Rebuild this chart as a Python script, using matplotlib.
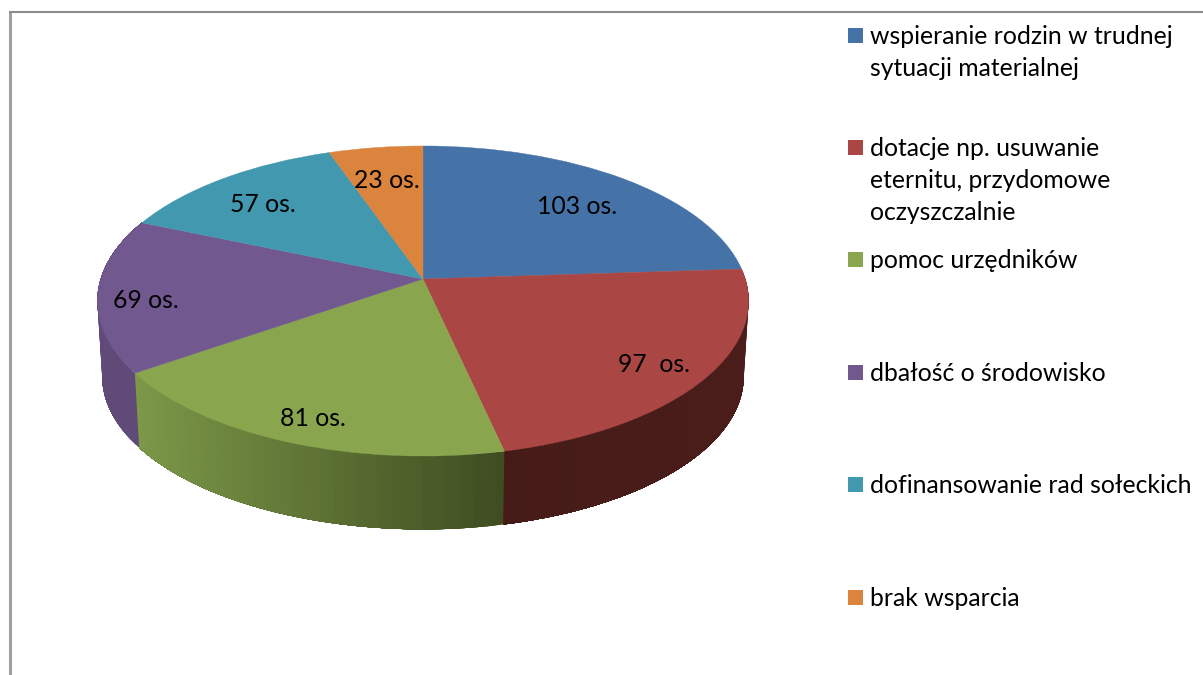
import numpy as np
import matplotlib
matplotlib.use('Agg')
import matplotlib.pyplot as plt
from matplotlib.colors import to_rgb
from matplotlib.patches import Rectangle
from matplotlib.transforms import Transform

# --- Data ---
categories = [
    'wspieranie rodzin w trudnej\nsytuacji materialnej',
    'dotacje np. usuwanie\neternitu, przydomowe\noczyszczalnie',
    'pomoc urzędników',
    'dbałość o środowisko',
    'dofinansowanie rad sołeckich',
    'brak wsparcia',
]
counts = [103, 97, 81, 69, 57, 23]
count_labels = ['103 os.', '97  os.', '81 os.', '69 os.', '57 os.', '23 os.']

# --- Style ---
colors = ['#4572A7', '#AA4643', '#89A54E', '#71588F', '#4198AF', '#DB843D']
# side wall colours, left to right on screen
side_colors = {
    1: ('#451B18', '#4A1D1A'),
    2: ('#7C9848', '#3E4C20'),
    3: ('#5F4A78', '#5F4A78'),
}
label_pos = [(577, 206), (654, 364), (313, 418), (146, 300), (263, 204), (387, 181)]
legend_y = [36, 148, 260, 373, 485, 598]
font = 'Lato'
label_px = 24.7

# --- Pie geometry in pixels ---
cx, cy = 423, 279
a, b, k = 322.3, 151.9, 0.142
depth, shrink = 76, 0.985


def project(x, y):
    w = 1 + k * y
    return cx + a * x / w, cy - b * y / w


class Perspective(Transform):
    input_dims = 2
    output_dims = 2
    is_affine = False

    def transform_non_affine(self, values):
        px, py = project(values[:, 0], values[:, 1])
        return np.column_stack([px, py])


fig = plt.figure(figsize=(12.03, 6.75), dpi=100)
ax = fig.add_axes([0, 0, 1, 1])

# --- Side walls ---
angles = np.cumsum([0] + counts) / sum(counts) * 2 * np.pi
for i, (c0, c1) in side_colors.items():
    th = np.linspace(angles[i], angles[i + 1], 60)
    tx, ty = project(np.sin(th), np.cos(th))
    bx = cx + (tx - cx) * shrink
    by = cy + (ty - cy) * shrink + depth
    lo, hi = bx.min(), bx.max()
    # each strip runs on to the end of the slice so no seams show
    for j in range(len(th) - 1):
        t = ((bx[j] + bx[j + 1]) / 2 - lo) / (hi - lo)
        col = (1 - t) * np.array(to_rgb(c0)) + t * np.array(to_rgb(c1))
        ax.fill(np.r_[tx[j:], bx[j:][::-1]], np.r_[ty[j:], by[j:][::-1]],
                color=col, lw=0, zorder=1)

# --- Top face ---
wedges, _ = ax.pie(counts, colors=colors, startangle=90, counterclock=False)
persp = Perspective() + ax.transData
for w, col in zip(wedges, colors):
    w.set_transform(persp)
    w.set_edgecolor(col)
    w.set_linewidth(0.3)
    w.set_zorder(2)

ax.set_aspect('auto')
ax.set_xlim(0, 1203)
ax.set_ylim(675, 0)
ax.axis('off')

for text, (x, y) in zip(count_labels, label_pos):
    ax.text(x, y, text, ha='center', va='center', family=font,
            fontsize=label_px * 0.72, color='black', zorder=3)

# --- Legend ---
for label, col, y in zip(categories, colors, legend_y):
    ax.add_patch(Rectangle((848, y - 8), 15, 15, color=col, lw=0))
    for n, line in enumerate(label.split('\n')):
        ax.text(870, y + 8 + 32 * n, line, va='baseline', family=font,
                fontsize=label_px * 0.72, color='black')

# --- Outer frame ---
ax.plot([10, 10], [675, 12], color='#A0A0A0', lw=2.2, solid_capstyle='butt')
ax.plot([9, 1203], [12, 12], color='#8C8C8C', lw=1.5, solid_capstyle='butt')

fig.savefig('out.png', dpi=100)
plt.close(fig)
